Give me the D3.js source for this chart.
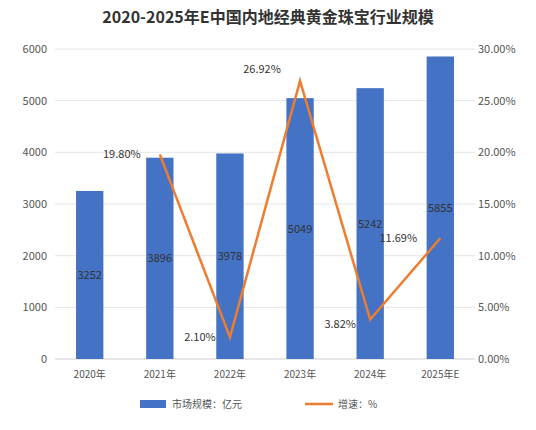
<!DOCTYPE html>
<html><head><meta charset="utf-8">
<script src="https://cdn.jsdelivr.net/npm/d3@7"></script>
<style>body{margin:0;background:#fff}text{font-family:"Noto Sans CJK SC","Noto Sans",sans-serif}</style>
</head><body><svg width="536" height="430"></svg>
<script>
var years = ['2020年', '2021年', '2022年', '2023年', '2024年', '2025年E'];
var scale = [3252, 3896, 3978, 5049, 5242, 5855];
var growth = [null, 19.80, 2.10, 26.92, 3.82, 11.69];
var leftTicks = [0, 1000, 2000, 3000, 4000, 5000, 6000];
var rightTicks = [0, 5, 10, 15, 20, 25, 30];

var svg = d3.select('svg');
var x = d3.scaleBand().domain(years).range([55, 475]).paddingInner(0.61).paddingOuter(0.3);
var y = d3.scaleLinear().domain([0, 6000]).range([359, 49]);
var y2 = d3.scaleLinear().domain([0, 30]).range([359, 49]);

svg.append('text').attr('x', 268).attr('y', 23).attr('text-anchor', 'middle')
    .attr('font-size', 16).attr('font-weight', 'bold').attr('fill', '#333')
    .text('2020-2025年E中国内地经典黄金珠宝行业规模');

// gridlines
svg.selectAll('.grid').data(leftTicks).enter().append('line')
    .attr('x1', 55).attr('x2', 475)
    .attr('y1', d => y(d)).attr('y2', d => y(d))
    .attr('stroke', d => d ? '#e6e6e6' : '#cfcfcf');

svg.selectAll('.lt').data(leftTicks).enter().append('text')
    .attr('x', 47).attr('y', d => y(d) + 4).attr('text-anchor', 'end')
    .attr('font-size', 11).attr('fill', '#555').text(d => d);
svg.selectAll('.rt').data(rightTicks).enter().append('text')
    .attr('x', 478).attr('y', d => y2(d) + 4)
    .attr('font-size', 11).attr('fill', '#555').text(d => d.toFixed(2) + '%');
svg.selectAll('.xt').data(years).enter().append('text')
    .attr('x', d => x(d) + x.bandwidth() / 2).attr('y', 378).attr('text-anchor', 'middle')
    .attr('font-size', 10).attr('fill', '#555').text(d => d);

svg.selectAll('.bar').data(scale).enter().append('rect')
    .attr('x', (d, i) => x(years[i])).attr('width', x.bandwidth())
    .attr('y', d => y(d)).attr('height', d => y(0) - y(d)).attr('fill', '#4472c4');
svg.selectAll('.bl').data(scale).enter().append('text')
    .attr('x', (d, i) => x(years[i]) + x.bandwidth() / 2).attr('y', d => y(d / 2) + 4)
    .attr('text-anchor', 'middle').attr('font-size', 11).attr('fill', '#333').text(d => d);

var pts = growth.map((g, i) => [x(years[i]) + x.bandwidth() / 2, g]).filter(p => p[1] != null);
svg.append('path').datum(pts)
    .attr('d', d3.line().x(p => p[0]).y(p => y2(p[1])))
    .attr('fill', 'none').attr('stroke', '#ed7d31').attr('stroke-width', 2.5);
// label offsets from each point
var off = {1: [-38, 0], 2: [-30, 0], 3: [-38, -12], 4: [-30, 4], 5: [-42, 0]};
pts.forEach(function(p) {
    var i = growth.indexOf(p[1]);
    svg.append('text').attr('x', p[0] + off[i][0]).attr('y', y2(p[1]) + off[i][1] + 4)
        .attr('text-anchor', 'middle').attr('font-size', 11).attr('fill', '#333')
        .text(p[1].toFixed(2) + '%');
});

// legend
svg.append('rect').attr('x', 140).attr('y', 400).attr('width', 26).attr('height', 8).attr('fill', '#4472c4');
svg.append('text').attr('x', 172).attr('y', 408).attr('font-size', 10).attr('fill', '#555').text('市场规模：亿元');
svg.append('line').attr('x1', 305).attr('x2', 333).attr('y1', 404).attr('y2', 404)
    .attr('stroke', '#ed7d31').attr('stroke-width', 2.5);
svg.append('text').attr('x', 338).attr('y', 408).attr('font-size', 10).attr('fill', '#555').text('增速：%');
</script></body></html>
